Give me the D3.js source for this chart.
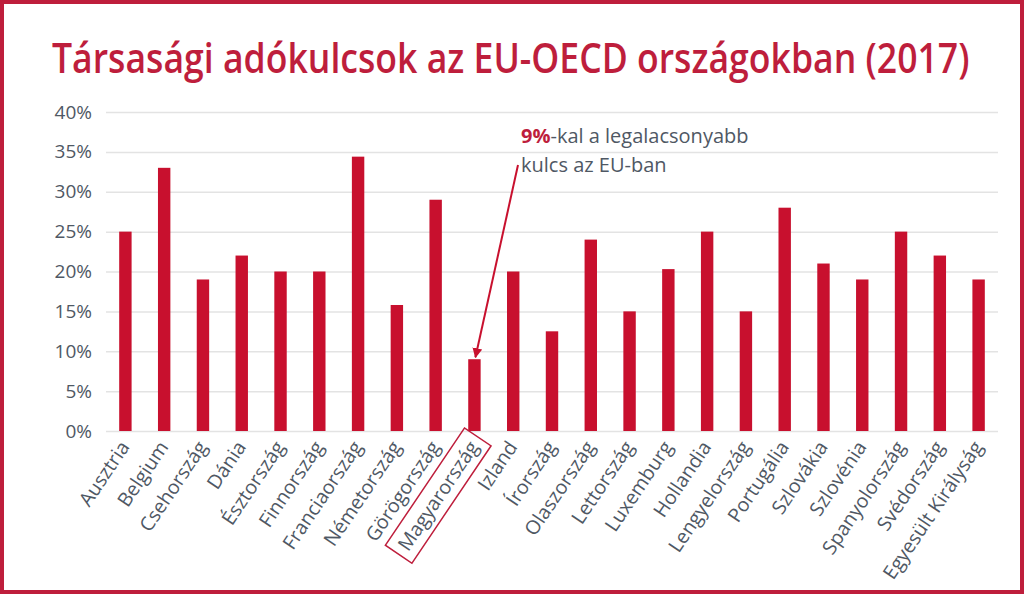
<!DOCTYPE html>
<html><head><meta charset="utf-8">
<script src="https://cdn.jsdelivr.net/npm/d3@7"></script>
<style>
html,body{margin:0;padding:0;background:#fff;}
svg{display:block;}
</style></head>
<body>
<svg id="c" width="1024" height="594"></svg>
<script>
const countries = ["Ausztria","Belgium","Csehország","Dánia","Észtország","Finnország","Franciaország","Németország","Görögország","Magyarország","Izland","Írország","Olaszország","Lettország","Luxemburg","Hollandia","Lengyelország","Portugália","Szlovákia","Szlovénia","Spanyolország","Svédország","Egyesült Királyság"];
const rates = [25,33,19,22,20,20,34.4,15.8,29,9,20,12.5,24,15,20.3,25,15,28,21,19,25,22,19];
const yTicks = [0,5,10,15,20,25,30,35,40];
const highlighted = "Magyarország";
const titleText = "Társasági adókulcsok az EU-OECD országokban (2017)";
const noteBold = "9%";
const noteLine1 = "-kal a legalacsonyabb";
const noteLine2 = "kulcs az EU-ban";

const RED = "#c8102e", TITLE = "#be1e3c", GREY = "#4f5864";
const FONT = "'Open Sans', 'Noto Sans', sans-serif";
const svg = d3.select("#c");
const W = 1024, H = 594;

// frame
svg.append("rect").attr("x",2).attr("y",2).attr("width",W-4).attr("height",H-4)
  .attr("fill","none").attr("stroke",TITLE).attr("stroke-width",4);

// title
const t = svg.append("text").attr("x",52).attr("y",73).attr("fill",TITLE)
  .attr("font-family",FONT).attr("font-weight",600).attr("font-size",41).text(titleText);
const tl = t.node().getComputedTextLength();
t.attr("transform",`translate(52,0) scale(${918/tl},1) translate(-52,0)`);

const x = d3.scaleBand().domain(countries).range([106,998]).paddingInner(0.68).paddingOuter(0.34);
const y = d3.scaleLinear().domain([0,40]).range([431,112]);

// grid + y axis
const ya = svg.append("g").attr("transform","translate(106,0)")
  .call(d3.axisLeft(y).tickValues(yTicks).tickSize(-892).tickFormat(d=>d+"%").tickPadding(14));
ya.select(".domain").remove();
ya.selectAll(".tick line").attr("stroke","#e3e3e3").attr("stroke-width",1.5);
ya.selectAll(".tick text").attr("fill",GREY).attr("font-family",FONT).attr("font-size",19);

// bars
svg.append("g").selectAll("rect").data(countries).join("rect")
  .attr("x",d=>x(d)).attr("width",x.bandwidth())
  .attr("y",(d,i)=>y(rates[i])).attr("height",(d,i)=>y(0)-y(rates[i]))
  .attr("fill",RED);

// x labels
const lg = svg.append("g").selectAll("g").data(countries).join("g")
  .attr("transform",d=>`translate(${x(d)+x.bandwidth()/2+5},447) rotate(-56)`);
lg.append("text").attr("text-anchor","end").attr("fill",GREY)
  .attr("font-family",FONT).attr("font-size",19.5).text(d=>d);
lg.filter(d=>d===highlighted).each(function(){
  const g = d3.select(this);
  const b = g.select("text").node().getBBox();
  g.append("rect").attr("x",b.x-7).attr("y",b.y-2).attr("width",b.width+14).attr("height",b.height+5)
    .attr("fill","none").attr("stroke",TITLE).attr("stroke-width",1.5);
});

// annotation
const an = svg.append("text").attr("x",521).attr("y",143).attr("font-family",FONT).attr("font-size",20).attr("fill",GREY);
an.append("tspan").attr("font-weight",700).attr("fill",TITLE).text(noteBold);
an.append("tspan").text(noteLine1);
svg.append("text").attr("x",521).attr("y",172).attr("font-family",FONT).attr("font-size",20).attr("fill",GREY).text(noteLine2);

const defs = svg.append("defs");
defs.append("marker").attr("id","ah").attr("viewBox","0 0 10 10").attr("refX",9).attr("refY",5)
  .attr("markerWidth",5).attr("markerHeight",5).attr("orient","auto")
  .append("path").attr("d","M0,0L10,5L0,10z").attr("fill",RED);
const hx = x(highlighted)+x.bandwidth()/2;
svg.append("line").attr("x1",518).attr("y1",165).attr("x2",hx+1).attr("y2",y(rates[countries.indexOf(highlighted)])-2)
  .attr("stroke",RED).attr("stroke-width",2).attr("marker-end","url(#ah)");
</script>
</body></html>
